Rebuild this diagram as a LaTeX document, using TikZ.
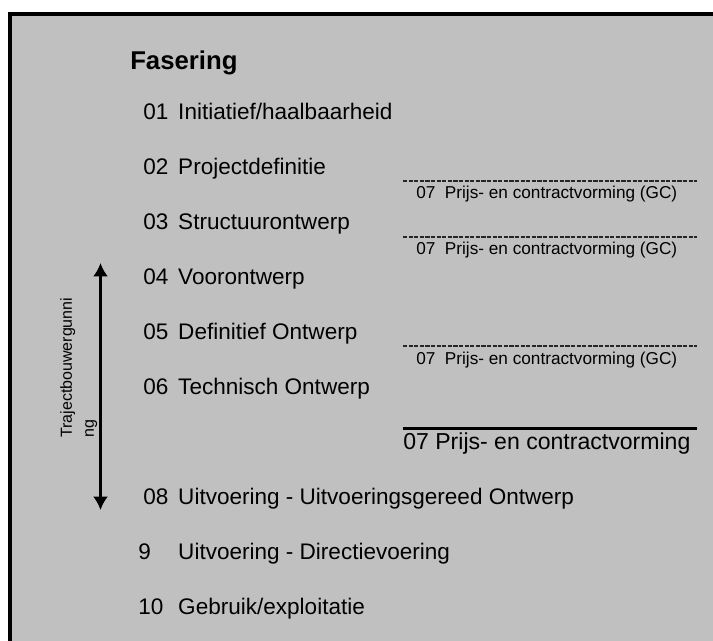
\documentclass[tikz,border=0pt]{standalone}
\usepackage{fontspec}
\setmainfont{Liberation Sans}
\usetikzlibrary{arrows.meta}
\definecolor{kader}{RGB}{192,192,192}
\tikzset{
    fase/.style={anchor=base west, inner sep=0pt, font=\fontsize{16.9pt}{20pt}\selectfont},
    titel/.style={anchor=base west, inner sep=0pt, font=\fontsize{19.3pt}{22pt}\selectfont\bfseries},
    gc/.style={anchor=base west, inner sep=0pt, font=\fontsize{12.9pt}{15pt}\selectfont},
    streep/.style={dash pattern=on 3.1pt off 1.1pt, line width=1.15pt, black!85},
    pijl/.style={line width=2.25pt, {Latex[length=10pt,width=11.2pt]}-{Latex[length=10pt,width=11.2pt]}}}
\newcommand{\nr}[2][26.25pt]{\makebox[#1][l]{#2}}

\begin{document}
\begin{tikzpicture}[x=0.75pt,y=-0.75pt]

        \useasboundingbox (0,0) rectangle (713,640);
        \clip (0,0) rectangle (713,640);
        \fill[white] (0,0) rectangle (713,640);
        \draw[line width=2.6pt, fill=kader] (10,14) rectangle (740,670);

            \node[titel] (fasering) at (130,69.5) {Fasering};

            \node[fase] (f01) at (143,119) {\nr{01}Initiatief/haalbaarheid};
            \node[fase] (f02) at (143,174) {\nr{02}Projectdefinitie};
            \node[fase] (f03) at (143,229) {\nr{03}Structuurontwerp};
            \node[fase] (f04) at (143,284.5) {\nr{04}Voorontwerp};
            \node[fase] (f05) at (143,339) {\nr{05}Definitief Ontwerp};
            \node[fase] (f06) at (143,394) {\nr{06}Technisch Ontwerp};
            \node[fase] (f08) at (143,504) {\nr{08}Uitvoering - Uitvoeringsgereed Ontwerp};
            \node[fase] (f09) at (138,559) {\nr[30pt]{9}Uitvoering - Directievoering};
            \node[fase] (f10) at (138,614) {\nr[30pt]{10}Gebruik/exploitatie};

            \draw[streep] (403,181) -- (697,181);
            \node[gc] (gc1) at (416,198) {07\ \ Prijs- en contractvorming (GC)};
            \draw[streep] (403,237) -- (697,237);
            \node[gc] (gc2) at (416,254) {07\ \ Prijs- en contractvorming (GC)};
            \draw[streep] (403,346) -- (697,346);
            \node[gc] (gc3) at (416,364.5) {07\ \ Prijs- en contractvorming (GC)};
            \draw[line width=2pt] (403,428.5) -- (697,428.5);
            \node[fase, font=\fontsize{17.3pt}{20pt}\selectfont] (f07) at (403,449.3) {07 Prijs- en contractvorming};

            \coordinate (boven) at (100.5,263);
            \coordinate (onder) at (100.5,510);
            \draw[pijl] (boven) -- (onder);
            \node[anchor=north west, rotate=90, inner sep=0pt, align=left,
                font=\fontsize{12pt}{16.5pt}\selectfont] (traject) at (60,438) {Trajectbouwergunni\\ng};

        \end{tikzpicture}
\end{document}
